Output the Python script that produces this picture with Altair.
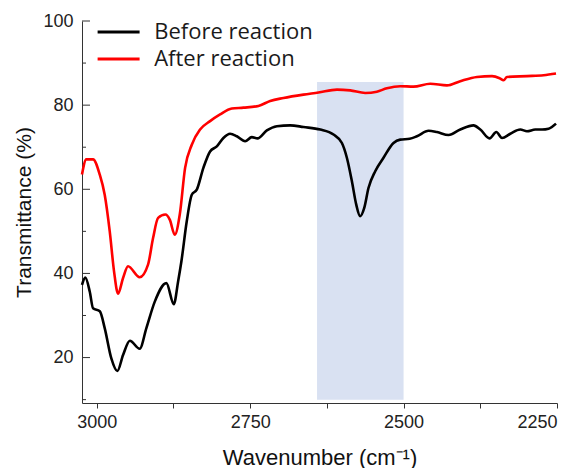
import altair as alt
import pandas as pd

# ---- data ----
before_wn = [3024, 3018.6, 3011.4, 3006, 2995, 2987, 2976.2, 2966.4, 2957.1, 2946, 2930, 2919.1,
             2905.4, 2886.5, 2874.4, 2867.4, 2862, 2853.3, 2845.1, 2837, 2826.2, 2815.3, 2804.3,
             2793.6, 2782.7, 2771.7, 2758.2, 2747.3, 2738.1, 2722.8, 2706.5, 2684.8, 2663.1,
             2635.8, 2614.2, 2600.5, 2592.4, 2584.2, 2577.2, 2570.7, 2564.2, 2557.2, 2546.2,
             2532.7, 2516.4, 2505.5, 2490, 2478.2, 2459.3, 2445.6, 2426.7, 2407.6, 2386, 2375,
             2359.9, 2348.9, 2339.6, 2326.1, 2309.8, 2298.9, 2285.4, 2274.4, 2263.7, 2251.6]
before_t = [37.3, 39.0, 35.7, 31.7, 31.0, 27.0, 19.8, 16.8, 20.6, 24.0, 22.1, 27.0,
            33.3, 37.7, 32.7, 38.1, 42.9, 52.4, 58.7, 59.9, 65.1, 69.0, 70.2,
            72.2, 73.2, 72.6, 71.4, 72.4, 72.1, 74.0, 75.0, 75.2, 74.8,
            74.2, 73.0, 71.0, 67.5, 61.9, 56.4, 53.6, 55.5, 60.3, 64.3,
            67.5, 71.0, 71.8, 72.0, 72.6, 73.9, 73.6, 72.9, 74.2, 75.2, 74.2,
            72.1, 73.6, 72.2, 73.2, 74.2, 73.8, 74.2, 74.2, 74.4, 75.6]

after_wn = [3024, 3017, 3006, 2995.1, 2987, 2978.8, 2971.8, 2965.3, 2957.1, 2949, 2930, 2916.4,
            2908.2, 2900, 2888.1, 2881, 2872.8, 2864.7, 2856, 2845.1, 2831.6, 2815.3, 2799,
            2779.9, 2760.9, 2736.5, 2717.4, 2695.7, 2663.1, 2638.7, 2608.5, 2587, 2562.5,
            2543.5, 2527.2, 2505.5, 2484, 2456.6, 2429.3, 2407.6, 2380.4, 2355.9, 2343.5,
            2337, 2331.5, 2298.9, 2271.8, 2251.6]
after_t = [63.5, 67.1, 67.1, 63.5, 58.7, 50.0, 40.5, 35.2, 38.9, 41.7, 39.1, 42.1,
           48.4, 53.2, 54.0, 52.8, 49.2, 54.0, 65.1, 70.6, 74.2, 76.2, 77.8,
           79.2, 79.4, 79.8, 81.0, 81.7, 82.5, 83.0, 83.7, 83.5, 82.9,
           83.2, 84.0, 84.5, 84.4, 85.1, 84.7, 85.7, 86.7, 86.9, 86.4,
           85.9, 86.7, 86.9, 87.1, 87.5]

series_names = ["Before reaction", "After reaction"]
series_colors = ["#000000", "#FF0000"]

band_wn = [2641, 2500]
band_t = [10, 85.5]

x_ticks = [3000, 2875, 2750, 2625, 2500, 2375, 2250]
y_major = [20, 40, 60, 80, 100]
y_minor = [10, 30, 50, 70, 90]

# ---- tables ----
lines_df = pd.concat([
    pd.DataFrame({"wn": before_wn, "T": before_t, "series": series_names[0]}),
    pd.DataFrame({"wn": after_wn, "T": after_t, "series": series_names[1]}),
])
band_df = pd.DataFrame({"wn": [band_wn[0]], "wn2": [band_wn[1]], "T": [band_t[0]], "T2": [band_t[1]]})
ymaj_df = pd.DataFrame({"T": y_major})
ymin_df = pd.DataFrame({"T": y_minor})

x_scale = alt.Scale(domain=[2250, 3024], reverse=True, nice=False, zero=False)
y_scale = alt.Scale(domain=[9.2, 100], nice=False, zero=False)

x_axis = alt.Axis(title="Wavenumber (cm⁻¹)", values=x_ticks, format="d",
                  labelExpr="datum.value % 250 == 0 ? datum.label : ''",
                  grid=False, tickSize=5, labelPadding=5, titlePadding=16,
                  labelFontSize=18, titleFontSize=22)
y_axis = alt.Axis(title="Transmittance (%)", values=y_major, grid=False,
                  ticks=False, labelPadding=9, titlePadding=8,
                  labelFontSize=18, titleFontSize=21)

band = alt.Chart(band_df).mark_rect(color="#D9E1F2").encode(
    x=alt.X("wn:Q", scale=x_scale, axis=x_axis),
    x2="wn2:Q",
    y=alt.Y("T:Q", scale=y_scale, axis=y_axis),
    y2="T2:Q",
)

lines = alt.Chart(lines_df).mark_line(strokeWidth=2.6, interpolate="monotone").encode(
    x=alt.X("wn:Q", scale=x_scale, axis=x_axis),
    y=alt.Y("T:Q", scale=y_scale, axis=y_axis),
    color=alt.Color("series:N", sort=series_names,
                    scale=alt.Scale(domain=series_names, range=series_colors),
                    legend=alt.Legend(orient="none", legendX=25.6, legendY=0, title=None,
                                      symbolType="M-2.5,0H2.5", symbolSize=282,
                                      symbolStrokeWidth=3, symbolFillColor="transparent",
                                      labelFont="Open Sans",
                                      labelFontSize=22, labelColor="#1a1a1a",
                                      labelOffset=24.6, rowPadding=5, padding=0)),
    order=alt.Order("wn:Q"),
)

tick_major = alt.Chart(ymaj_df).mark_rule(color="#333333", strokeWidth=1).encode(
    y=alt.Y("T:Q", scale=y_scale, axis=y_axis),
    x=alt.value(0), x2=alt.value(8),
)
tick_minor = alt.Chart(ymin_df).mark_rule(color="#333333", strokeWidth=1).encode(
    y=alt.Y("T:Q", scale=y_scale, axis=y_axis),
    x=alt.value(0), x2=alt.value(4),
)

chart = alt.layer(band, lines, tick_major, tick_minor).properties(
    width=475, height=382,
    padding={"left": 5, "top": 4, "right": 2, "bottom": 0},
).configure_view(stroke=None).configure_axis(
    labelFont="Liberation Sans", titleFont="Liberation Sans",
    labelColor="#222222", titleColor="#111111",
    domainColor="#333333", tickColor="#333333",
    titleFontWeight="normal",
)

chart.save("out.html", embed_options={"renderer": "svg", "actions": False})
